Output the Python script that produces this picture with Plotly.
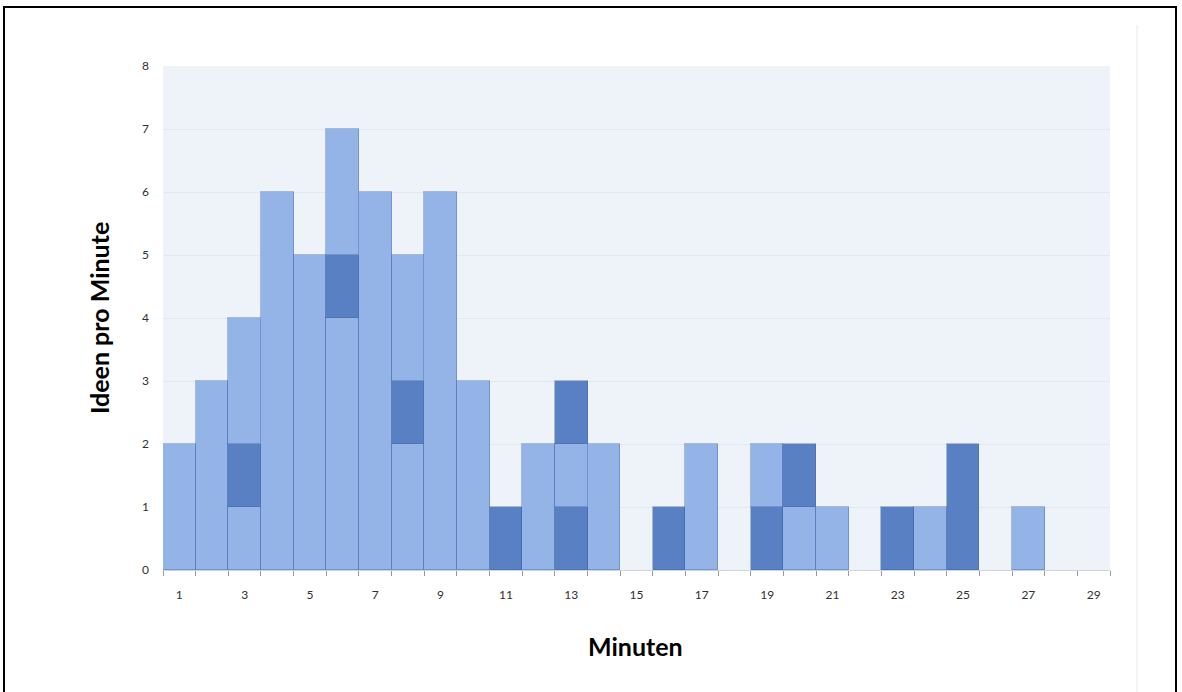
import plotly.graph_objects as go

minutes = list(range(1, 30))
# stacked segments: bottom, middle, top (value per minute) and colour flag (L=light, D=dark)
bottom_vals = [2, 3, 1, 6, 5, 4, 6, 2, 6, 3, 1, 2, 1, 2, 0, 1, 2, 0, 1, 1, 1, 0, 1, 1, 2, 0, 1, 0, 0]
bottom_kind = ["L", "L", "L", "L", "L", "L", "L", "L", "L", "L", "D", "L", "D", "L", "L", "D", "L", "L", "D", "L", "L", "L", "D", "L", "D", "L", "L", "L", "L"]
middle_vals = [0, 0, 1, 0, 0, 1, 0, 1, 0, 0, 0, 0, 1, 0, 0, 0, 0, 0, 1, 1, 0, 0, 0, 0, 0, 0, 0, 0, 0]
middle_kind = ["L", "L", "D", "L", "L", "D", "L", "D", "L", "L", "L", "L", "L", "L", "L", "L", "L", "L", "L", "D", "L", "L", "L", "L", "L", "L", "L", "L", "L"]
top_vals = [0, 0, 2, 0, 0, 2, 0, 2, 0, 0, 0, 0, 1, 0, 0, 0, 0, 0, 0, 0, 0, 0, 0, 0, 0, 0, 0, 0, 0]
top_kind = ["L", "L", "L", "L", "L", "L", "L", "L", "L", "L", "L", "L", "D", "L", "L", "L", "L", "L", "L", "L", "L", "L", "L", "L", "L", "L", "L", "L", "L"]
x_ticks = list(range(1, 30, 2))
y_ticks = list(range(0, 9))

LIGHT = "#94B4E8"
DARK = "#5880C2"
cmap = {"L": LIGHT, "D": DARK}

fig = go.Figure()
for name, vals, kinds in [("a", bottom_vals, bottom_kind), ("b", middle_vals, middle_kind), ("c", top_vals, top_kind)]:
    fig.add_trace(go.Bar(
        x=minutes, y=[v if v else None for v in vals], name=name,
        marker=dict(color=[cmap[k] for k in kinds],
                    line=dict(color="rgba(60,100,170,0.4)", width=1)),
        width=1.0, showlegend=False, hoverinfo="x+y",
    ))

L, R, T, B = 163, 1110, 66, 570
W, H = 1182, 692
pw, ph = R - L, B - T

def px(xp):
    return (xp - L) / pw

def py(yp):
    return (B - yp) / ph

TITLE_FONT = dict(family="Lato, Open Sans, sans-serif", size=25, color="black")

fig.update_layout(
    width=W, height=H,
    barmode="stack", bargap=0,
    margin=dict(l=L, r=W - R, t=T, b=H - B, autoexpand=False),
    paper_bgcolor="white", plot_bgcolor="#EEF2F9",
    font=dict(family="Lato, Open Sans, sans-serif", size=12, color="#303030"),
    xaxis=dict(range=[0.5, 29.5], tickmode="array", tickvals=x_ticks,
               ticktext=[str(v) for v in x_ticks], showgrid=False, zeroline=False,
               showline=True, linecolor="#D0D4DA", linewidth=1, ticks="",
               ticklabelstandoff=14,
               minor=dict(ticks="outside", tick0=0.5, dtick=1, ticklen=5,
                          tickcolor="#9A9A9A", tickwidth=1, showgrid=False)),
    yaxis=dict(range=[0, 8], tickmode="array", tickvals=y_ticks,
               showgrid=True, gridcolor="#E2E8F1", gridwidth=1, zeroline=False,
               showline=False, ticks="", ticklabelstandoff=13),
    annotations=[
        dict(text="<b>Ideen pro Minute</b>", xref="paper", yref="paper",
             x=px(99), y=py(318), textangle=-90, showarrow=False,
             font=TITLE_FONT, xanchor="center", yanchor="middle"),
        dict(text="<b>Minuten</b>", xref="paper", yref="paper",
             x=px(635), y=py(646), showarrow=False,
             font=TITLE_FONT, xanchor="center", yanchor="middle"),
    ],
    shapes=[
        dict(type="rect", xref="paper", yref="paper",
             x0=px(4), x1=px(1176), y0=py(700), y1=py(7),
             line=dict(color="black", width=2), fillcolor="rgba(0,0,0,0)", layer="above"),
        dict(type="line", xref="paper", yref="paper",
             x0=px(1137), x1=px(1137), y0=py(692), y1=py(25),
             line=dict(color="#E8E8E8", width=1)),
    ],
)

fig.write_html("out.html", config={"displayModeBar": False},
               post_script="document.body.style.margin='0';")
